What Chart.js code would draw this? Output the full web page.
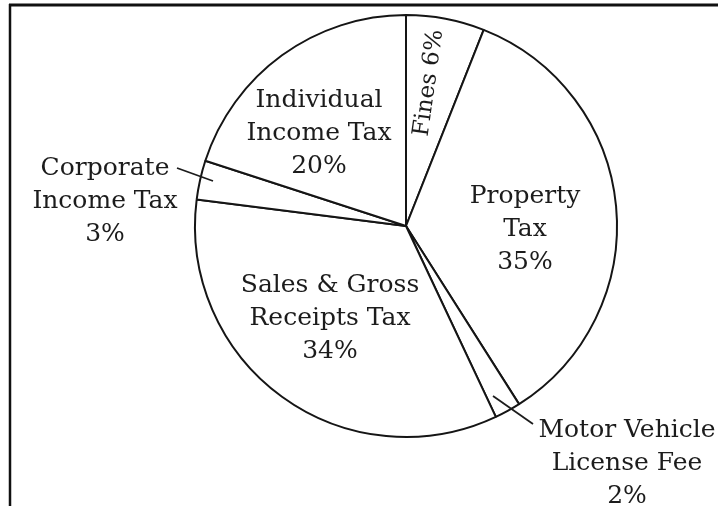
<!DOCTYPE html>
<html>
<head>
<meta charset="utf-8">
<script src="https://cdn.jsdelivr.net/npm/chart.js@4/dist/chart.umd.min.js"></script>
<style>
  html, body { margin: 0; padding: 0; background: #fff; }
  canvas { display: block; }
</style>
</head>
<body>
<canvas id="c" width="718" height="506"></canvas>
<script>
// ---- Data (clockwise from 12 o'clock) ----
const categories = ["Fines", "Property Tax", "Motor Vehicle License Fee", "Sales & Gross Receipts Tax", "Corporate Income Tax", "Individual Income Tax"];
const shares = [6, 35, 2, 34, 3, 20];
const labelLines = [
  ["Fines 6%"],
  ["Property", "Tax", "35%"],
  ["Motor Vehicle", "License Fee", "2%"],
  ["Sales & Gross", "Receipts Tax", "34%"],
  ["Corporate", "Income Tax", "3%"],
  ["Individual", "Income Tax", "20%"]
];

// ---- Label placement (offsets from pie centre, px) ----
const labelPlacement = [
  { dx: 23,   dy: -143, rot: -82, size: 23, middle: true },
  { dx: 119,  dy: -23 },
  { dx: 221,  dy: 211 },
  { dx: -76,  dy: 66 },
  { dx: -301, dy: -51 },
  { dx: -87,  dy: -119 }
];
const leaders = [
  { from: [-229, -58], to: [-193, -45] },
  { from: [87, 170],   to: [127, 198] }
];

const framePlugin = {
  id: 'frame',
  beforeDraw(chart) {
    const ctx = chart.ctx;
    ctx.save();
    ctx.fillStyle = '#fff';
    ctx.fillRect(0, 0, chart.width, chart.height);
    ctx.strokeStyle = '#111';
    ctx.lineWidth = 3;
    ctx.beginPath();
    ctx.moveTo(9, 5);
    ctx.lineTo(chart.width, 5);
    ctx.stroke();
    ctx.lineWidth = 2.5;
    ctx.beginPath();
    ctx.moveTo(10, 4);
    ctx.lineTo(10, chart.height);
    ctx.stroke();
    ctx.restore();
  }
};

const labelPlugin = {
  id: 'pieLabels',
  afterDatasetsDraw(chart) {
    const meta = chart.getDatasetMeta(0);
    const arc0 = meta.data[0];
    const cx = arc0.x, cy = arc0.y;
    const ctx = chart.ctx;
    ctx.save();
    ctx.fillStyle = '#1c1c1c';
    ctx.strokeStyle = '#1c1c1c';
    ctx.textAlign = 'center';
    const lh = 33;
    labelLines.forEach((lines, i) => {
      const p = labelPlacement[i];
      const size = p.size || 25;
      ctx.font = size + 'px "DejaVu Serif", serif';
      if (p.rot) {
        ctx.save();
        ctx.translate(cx + p.dx, cy + p.dy);
        ctx.rotate(p.rot * Math.PI / 180);
        ctx.textBaseline = 'middle';
        ctx.fillText(lines[0], 0, 0);
        ctx.restore();
      } else {
        ctx.textBaseline = 'alphabetic';
        lines.forEach((t, k) => ctx.fillText(t, cx + p.dx, cy + p.dy + k * lh));
      }
    });
    ctx.lineWidth = 1.8;
    leaders.forEach(l => {
      ctx.beginPath();
      ctx.moveTo(cx + l.from[0], cy + l.from[1]);
      ctx.lineTo(cx + l.to[0], cy + l.to[1]);
      ctx.stroke();
    });
    ctx.restore();
  }
};

new Chart(document.getElementById('c'), {
  type: 'pie',
  data: {
    labels: categories,
    datasets: [{
      data: shares,
      backgroundColor: '#ffffff',
      borderColor: '#151515',
      borderWidth: 2
    }]
  },
  options: {
    responsive: false,
    animation: false,
    layout: { padding: { top: 14, bottom: 68, left: 194, right: 100 } },
    plugins: {
      legend: { display: false },
      tooltip: { enabled: false }
    }
  },
  plugins: [framePlugin, labelPlugin]
});
</script>
</body>
</html>
